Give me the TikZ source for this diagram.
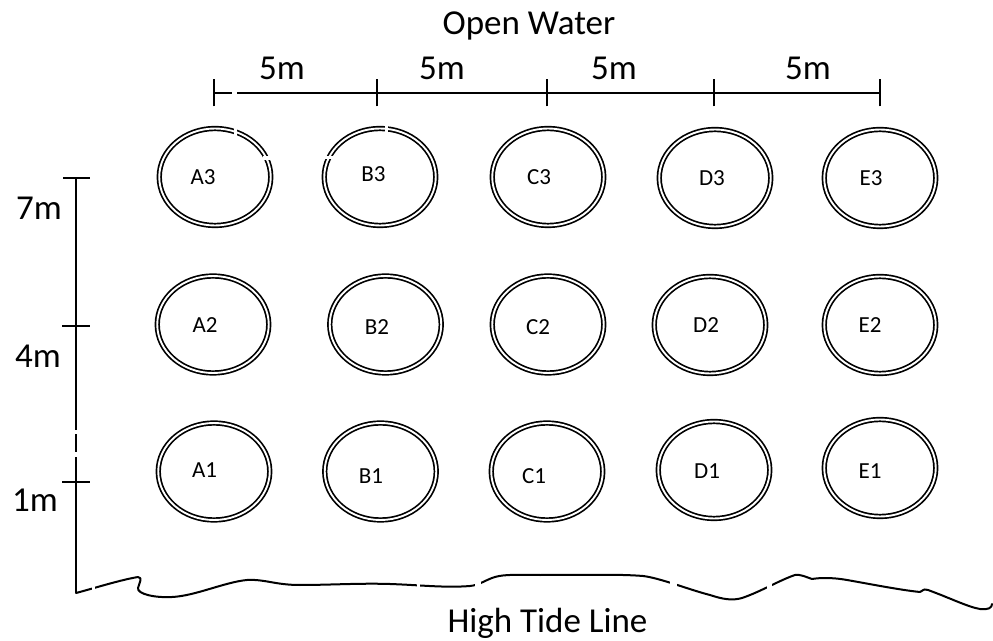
\documentclass[tikz,border=0pt]{standalone}
\usepackage{fontspec}
\setmainfont{Carlito}
\usetikzlibrary{shapes.geometric}
\begin{document}
\begin{tikzpicture}[x=1pt,y=1pt,
  pool/.style={ellipse, draw=black, double=white, line width=1.7pt, double distance=1.9pt,
    minimum width=111.5pt, minimum height=97pt, inner sep=0pt},
  plabel/.style={inner sep=0pt, font=\fontsize{23}{26}\selectfont},
  big/.style={inner sep=0pt, font=\fontsize{35}{40}\selectfont},
  scaleline/.style={line width=2pt, line cap=butt},
  shore/.style={line width=2pt, line cap=round, line join=round},
  nick/.style={fill=white, draw=none}]
\useasboundingbox (0,0) rectangle (993,640);

% headings
\node[big, anchor=base] (ow) at (529,605) {Open Water};
\node[big, anchor=base] (htl) at (547.5,8) {High Tide Line};

% top scale
\coordinate (t0) at (214,547);
\coordinate (t1) at (377,547);
\coordinate (t2) at (547,547);
\coordinate (t3) at (714,547);
\coordinate (t4) at (880,547);
\draw[scaleline] (t0) -- (t4);
\foreach \p in {t0,t1,t2,t3,t4}{
  \draw[scaleline] ([yshift=-13.5pt]\p) -- ([yshift=13.5pt]\p);
}
\node[big, anchor=base] (s1) at (282,560) {5m};
\node[big, anchor=base] (s2) at (442,560) {5m};
\node[big, anchor=base] (s3) at (614,560) {5m};
\node[big, anchor=base] (s4) at (808,560) {5m};

% left scale
\coordinate (v0) at (76,462);
\coordinate (v1) at (76,314);
\coordinate (v2) at (76,158);
\coordinate (vb) at (76,47);
\draw[scaleline] (v0) -- (vb);
\draw[scaleline] (63,462) -- (90,462);
\draw[scaleline] (62,314) -- (90,314);
\draw[scaleline] (62,158) -- (90,158);
\node[big, anchor=base east] (m7) at (62,420) {7m};
\node[big, anchor=base east] (m4) at (61,272) {4m};
\node[big, anchor=base east] (m1) at (58,128) {1m};

% shore line
\draw[shore] (vb) .. controls (95,52) and (120,60) .. (138,63)
  .. controls (143,63) and (139,56) .. (138,52)
  .. controls (137,46) and (155,42) .. (172,43)
  .. controls (195,44) and (225,58) .. (247,60)
  .. controls (265,61) and (275,55) .. (300,55)
  .. controls (330,55) and (360,57) .. (390,56)
  .. controls (420,55) and (445,52) .. (470,54)
  .. controls (480,55) and (485,60) .. (495,63)
  .. controls (505,66) and (520,65) .. (540,65)
  .. controls (580,65) and (620,66) .. (643,64)
  .. controls (660,62) and (690,50) .. (710,45)
  .. controls (722,41) and (732,39) .. (742,42)
  .. controls (760,48) and (780,60) .. (795,65)
  .. controls (800,66) and (806,63) .. (812,61)
  .. controls (818,62) and (830,63) .. (847,60)
  .. controls (870,56) and (900,50) .. (920,48)
  .. controls (923,48) and (922,52) .. (928,50)
  .. controls (950,42) and (968,33) .. (980,31)
  .. controls (988,30) and (992,32) .. (992,36);

% pools
\node[pool] (A3) at (215,463) {};
\node[pool] (B3) at (380,463) {};
\node[pool] (C3) at (548,463) {};
\node[pool] (D3) at (715,462) {};
\node[pool] (E3) at (880,462) {};
\node[pool] (A2) at (213,315.5) {};
\node[pool] (B2) at (385.5,315.5) {};
\node[pool] (C2) at (548,315.5) {};
\node[pool] (D2) at (710,315) {};
\node[pool] (E2) at (880,315) {};
\node[pool] (A1) at (214,168.5) {};
\node[pool] (B1) at (380.5,168.5) {};
\node[pool] (C1) at (547,168.5) {};
\node[pool] (D1) at (714,170) {};
\node[pool] (E1) at (880,172) {};

% small breaks in the printed lines
\fill[nick] (232,543) rectangle (237,551);
\fill[nick] (233.5,504) rectangle (236.5,514);
\fill[nick] (263,480) rectangle (271,484);
\fill[nick] (385,504) rectangle (387.5,514);
\fill[nick] (324,481) rectangle (333,484);
\fill[nick] (72,206) rectangle (80,210);
\fill[nick] (72,183) rectangle (80,188);
\fill[nick] (91.5,40) rectangle (95,60);
\fill[nick] (417,45) rectangle (420,62);
\fill[nick] (475,48) rectangle (481,70);
\fill[nick] (670,45) rectangle (677,65);
\fill[nick] (767,45) rectangle (771.5,65);

% pool labels
\node[plabel] (lA3) at (203,462.5) {A3};
\node[plabel] (lB3) at (373.5,465.5) {B3};
\node[plabel] (lC3) at (539,462.5) {C3};
\node[plabel] (lD3) at (712,462) {D3};
\node[plabel] (lE3) at (871,462) {E3};
\node[plabel] (lA2) at (205,315) {A2};
\node[plabel] (lB2) at (377,313) {B2};
\node[plabel] (lC2) at (538,313) {C2};
\node[plabel] (lD2) at (706,315) {D2};
\node[plabel] (lE2) at (870,315) {E2};
\node[plabel] (lA1) at (204.5,170) {A1};
\node[plabel] (lB1) at (371,164) {B1};
\node[plabel] (lC1) at (534,164) {C1};
\node[plabel] (lD1) at (707,169) {D1};
\node[plabel] (lE1) at (870,169) {E1};
\end{tikzpicture}
\end{document}
